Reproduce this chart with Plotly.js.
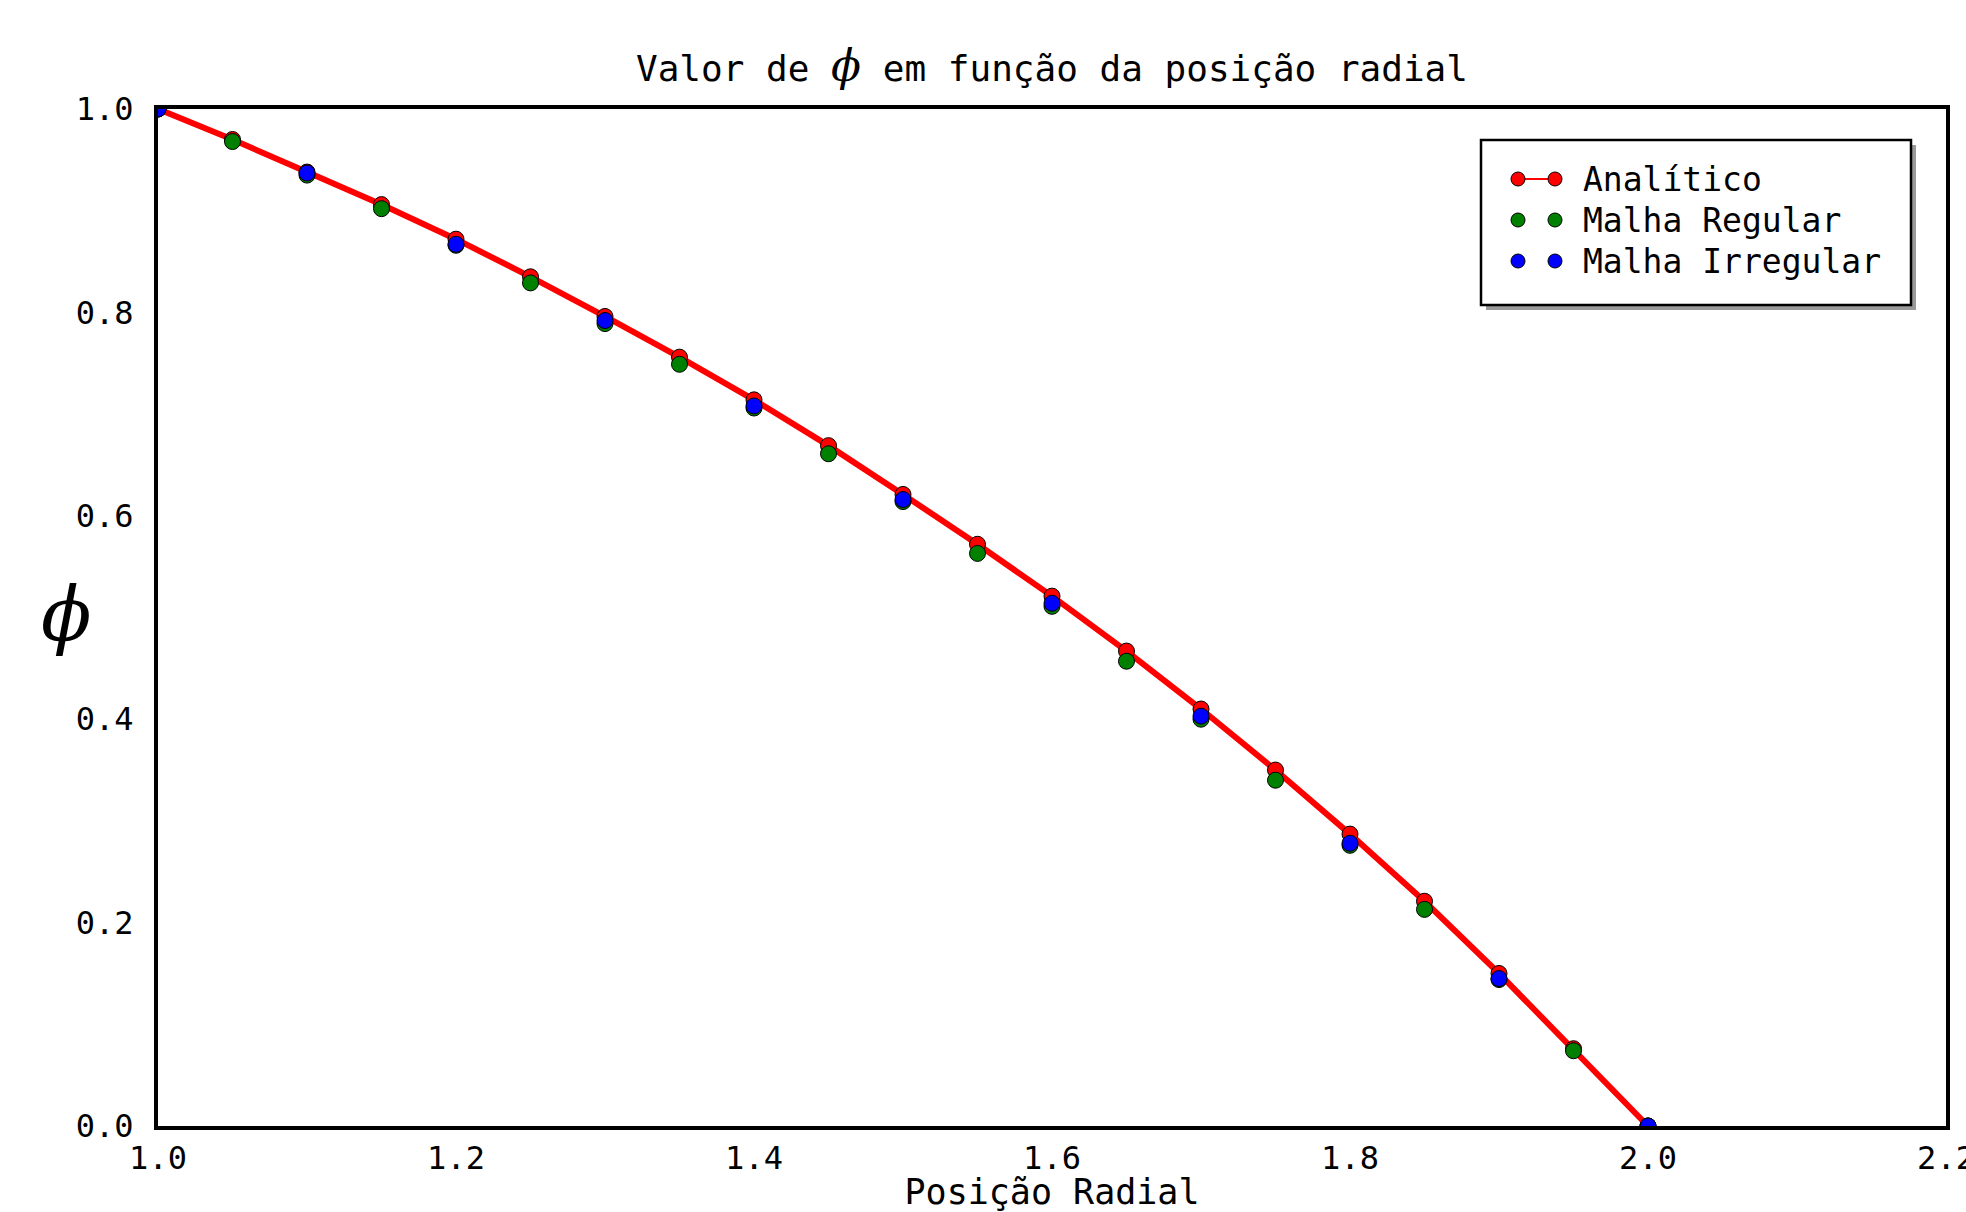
<!DOCTYPE html>
<html>
<head>
<meta charset="utf-8">
<script src="https://cdn.plot.ly/plotly-3.0.1.min.js"></script>
<style>html,body{margin:0;padding:0;background:#fff;}#chart{width:1966px;height:1212px;}</style>
</head>
<body>
<div id="chart"></div>
<script>
// ---- data ----
const rAnalitico = [1.00,1.05,1.10,1.15,1.20,1.25,1.30,1.35,1.40,1.45,1.50,1.55,1.60,1.65,1.70,1.75,1.80,1.85,1.90,1.95,2.00];
const phiAnalitico = [1.000,0.970,0.938,0.906,0.872,0.835,0.796,0.756,0.714,0.669,0.621,0.572,0.521,0.467,0.410,0.350,0.287,0.221,0.150,0.076,0.000];

const rRegular = [1.00,1.05,1.10,1.15,1.20,1.25,1.30,1.35,1.40,1.45,1.50,1.55,1.60,1.65,1.70,1.75,1.80,1.85,1.90,1.95,2.00];
const phiRegular = [1.000,0.968,0.935,0.902,0.866,0.829,0.789,0.749,0.706,0.661,0.614,0.563,0.511,0.457,0.400,0.340,0.276,0.213,0.144,0.074,0.000];

const rIrregular = [1.0,1.1,1.2,1.3,1.4,1.5,1.6,1.7,1.8,1.9,2.0];
const phiIrregular = [1.000,0.937,0.867,0.792,0.708,0.616,0.514,0.403,0.278,0.145,0.000];

const xTickVals = [1.0,1.2,1.4,1.6,1.8,2.0,2.2];
const xTickText = ["1.0","1.2","1.4","1.6","1.8","2.0","2.2"];
const yTickVals = [0.0,0.2,0.4,0.6,0.8,1.0];
const yTickText = ["0.0","0.2","0.4","0.6","0.8","1.0"];

const seriesNames = ["Analítico","Malha Regular","Malha Irregular"];
const seriesColors = ["#ff0000","#008000","#0000ff"];

// ---- traces ----
const mk = (c) => ({color: c, size: 16, line: {color: "#000", width: 1}});
const traces = [
  {x: rAnalitico, y: phiAnalitico, name: seriesNames[0], mode: "lines+markers",
   line: {color: seriesColors[0], width: 6}, marker: mk(seriesColors[0])},
  {x: rRegular, y: phiRegular, name: seriesNames[1], mode: "markers",
   marker: mk(seriesColors[1])},
  {x: rIrregular, y: phiIrregular, name: seriesNames[2], mode: "markers",
   marker: mk(seriesColors[2])}
];

// ---- custom legend (matplotlib style, two markers per entry) ----
const L = 158, T = 109, W = 1788, H = 1017;
const px = (p) => (p - L) / W;
const py = (p) => (T + H - p) / H;
const legBox = {x0: 1481, x1: 1911, y0: 140, y1: 305};
const rowsY = [179, 220, 261];
const mX = [1518, 1555];
const textX = 1581;

const shapes = [
  {type: "rect", xref: "paper", yref: "paper",
   x0: px(legBox.x0 + 5), x1: px(legBox.x1 + 5), y0: py(legBox.y0 + 5), y1: py(legBox.y1 + 5),
   fillcolor: "rgba(120,120,120,0.75)", line: {width: 0}},
  {type: "rect", xref: "paper", yref: "paper",
   x0: px(legBox.x0), x1: px(legBox.x1), y0: py(legBox.y0), y1: py(legBox.y1),
   fillcolor: "#ffffff", line: {color: "#000", width: 2.5}},
  {type: "line", xref: "paper", yref: "paper",
   x0: px(mX[0]), x1: px(mX[1]), y0: py(rowsY[0]), y1: py(rowsY[0]),
   line: {color: seriesColors[0], width: 2}}
];
const annotations = [];
seriesNames.forEach((nm, i) => {
  mX.forEach(mx => {
    shapes.push({type: "circle", xref: "paper", yref: "paper",
      xsizemode: "pixel", ysizemode: "pixel",
      xanchor: px(mx), yanchor: py(rowsY[i]),
      x0: -7, x1: 7, y0: -7, y1: 7,
      fillcolor: seriesColors[i], line: {color: "#000", width: 1}});
  });
  annotations.push({xref: "paper", yref: "paper", x: px(textX), y: py(rowsY[i]),
    xanchor: "left", yanchor: "middle", showarrow: false, text: nm,
    font: {family: "DejaVu Sans Mono", size: 33, color: "#000"}});
});
// y-axis label (upright phi)
annotations.push({xref: "paper", yref: "paper", x: px(66), y: py(614),
  xanchor: "center", yanchor: "middle", showarrow: false, text: "ϕ",
  font: {family: "DejaVu Serif", size: 74, color: "#000", style: "italic"}});

const layout = {
  width: 1966, height: 1212,
  paper_bgcolor: "#ffffff", plot_bgcolor: "#ffffff",
  margin: {l: L, r: 1966 - L - W, t: T, b: 1212 - T - H, pad: 0},
  showlegend: false,
  title: {
    text: "Valor de <span style=\"font-family:'DejaVu Serif';font-style:italic;font-size:44px\">ϕ</span> em função da posição radial",
    font: {family: "DejaVu Sans Mono", size: 36, color: "#000"},
    x: 0.5, xref: "paper", xanchor: "center",
    y: 1 - 68 / 1212, yref: "container", yanchor: "middle"
  },
  xaxis: {
    range: [1.0, 2.2000001], tickvals: xTickVals, ticktext: xTickText,
    showgrid: false, zeroline: false, showline: true, mirror: true,
    linecolor: "#000", linewidth: 4, ticks: "",
    tickfont: {family: "DejaVu Sans Mono", size: 32, color: "#000"},
    ticklabelstandoff: 1, ticklabeloverflow: "allow",
    title: {text: "Posição Radial", standoff: 7,
      font: {family: "DejaVu Sans Mono", size: 35, color: "#000"}}
  },
  yaxis: {
    range: [0, 1.0], tickvals: yTickVals, ticktext: yTickText,
    showgrid: false, zeroline: false, showline: true, mirror: true,
    linecolor: "#000", linewidth: 4, ticks: "",
    tickfont: {family: "DejaVu Sans Mono", size: 32, color: "#000"},
    ticklabelstandoff: 14
  },
  shapes: shapes,
  annotations: annotations
};

Plotly.newPlot("chart", traces, layout, {staticPlot: true, displayModeBar: false});
</script>
</body>
</html>
